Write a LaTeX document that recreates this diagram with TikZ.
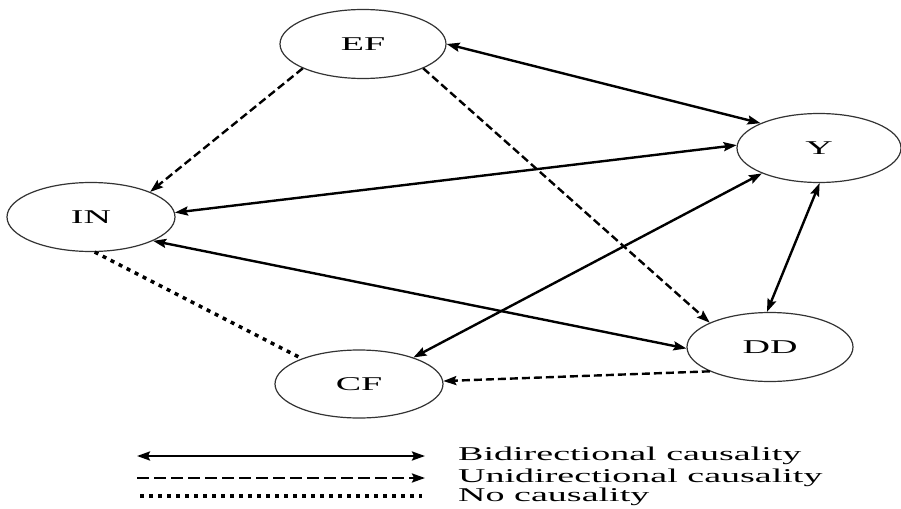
\documentclass[tikz,border=0pt]{standalone}
\usepackage{fontspec}
\setmainfont{Liberation Serif}[FakeStretch=1.95]
\usetikzlibrary{arrows.meta,shapes.geometric}
\begin{document}
\begin{tikzpicture}[x=1pt,y=-1pt,
  var/.style={ellipse,draw=black!80,line width=1.2pt,minimum width=166pt,minimum height=69pt,inner sep=0pt,
    font=\fontsize{19.5}{22}\selectfont},
  conn/.style={line width=2.4pt,black},
  tip/.style={-{Stealth[length=13pt,width=9pt,inset=2pt]}},
  bi/.style={conn,{Stealth[length=13pt,width=9pt,inset=2pt]}-{Stealth[length=13pt,width=9pt,inset=2pt]}},
  uni/.style={conn,tip,dash pattern=on 8pt off 4pt},
  nocaus/.style={conn,line width=3.5pt,dash pattern=on 4pt off 5pt},
  legtext/.style={anchor=west,inner sep=0pt,font=\fontsize{19.5}{22}\selectfont}
]
\useasboundingbox (0,0) rectangle (901,508);
\fill[white] (0,0) rectangle (901,508);

\node[var] (EF) at (363,44) {EF};
\node[var,minimum width=168pt] (IN) at (91,217) {IN};
\node[var,minimum width=164pt] (Y) at (819,148) {Y};
\node[var] (DD) at (770,347) {DD};
\node[var,minimum width=168pt,minimum height=68pt] (CF) at (359,384) {CF};

% bidirectional
\draw[bi] (EF.0) -- (Y.157);
\draw[bi] (IN.3) -- (Y.178);
\draw[bi] (IN.339) -- (DD.181);
\draw[bi] (Y.204) -- (CF.26);
\draw[bi] (Y.271) -- (DD.95);
% unidirectional
\draw[uni] (EF.202) -- (IN.23);
\draw[uni] (EF.338) -- (DD.158);
\draw[uni] (DD.202) -- (CF.2);
% no causality
\draw[nocaus] (IN.276) -- (CF.156);

% legend
\coordinate (b1) at (137,456); \coordinate (b2) at (425,456);
\coordinate (u1) at (137,478); \coordinate (u2) at (425,478);
\coordinate (n1) at (140,496); \coordinate (n2) at (422,496);
\draw[bi] (b1) -- (b2);
\draw[conn,tip,dash pattern=on 12pt off 5pt] (u1) -- (u2);
\draw[nocaus] (n1) -- (n2);
\node[legtext] (lb) at (458,456) {Bidirectional causality};
\node[legtext] (lu) at (458,478) {Unidirectional causality};
\node[legtext] (ln) at (458,497) {No causality};
\end{tikzpicture}
\end{document}
